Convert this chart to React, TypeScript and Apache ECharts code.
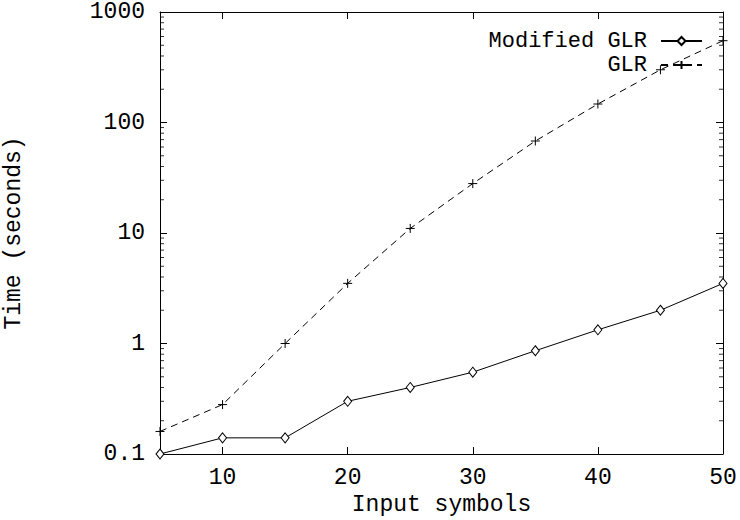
import React, { useEffect, useRef } from "react";
import * as echarts from "echarts";

const inputSymbols = [5, 10, 15, 20, 25, 30, 35, 40, 45, 50];
const modifiedGLR = [0.1, 0.14, 0.14, 0.3, 0.4, 0.55, 0.86, 1.33, 2.0, 3.5];
const glr = [0.16, 0.28, 1.0, 3.5, 11, 28, 68, 147, 300, 550];
const xTickValues = [10, 20, 30, 40, 50];
const yMajorValues = [0.1, 1, 10, 100, 1000];
const yMinorValues: number[] = [];
[0.1, 1, 10, 100].forEach((d) => {
  for (let k = 2; k <= 9; k++) yMinorValues.push(+(d * k).toPrecision(3));
});
const xMin = 5;
const xMax = 50;

const FONT = "Liberation Mono";
const FS = 23;

export default function App() {
  const ref = useRef<HTMLDivElement>(null);
  useEffect(() => {
    if (!ref.current) return;
    const chart = echarts.init(ref.current, null, { renderer: "svg" });
    const axisLine = { show: true, onZero: false, lineStyle: { color: "#000", width: 1 } };
    const xBase = (pos: string, showLabel: boolean) => ({
      type: "value",
      position: pos,
      min: xMin,
      max: xMax,
      axisLine,
      splitLine: { show: false },
      axisTick: {
        show: true,
        inside: true,
        length: 7,
        customValues: xTickValues,
        lineStyle: { color: "#000" },
      },
      axisLabel: {
        show: showLabel,
        customValues: xTickValues,
        fontFamily: FONT,
        fontSize: FS,
        lineHeight: 20,
        color: "#000",
        margin: 14,
      },
    });
    const logAxis = (pos: string, showLabel: boolean) => ({
      type: "log",
      logBase: 10,
      position: pos,
      min: 0.1,
      max: 1000,
      axisLine,
      splitLine: { show: false },
      axisTick: {
        show: true,
        inside: true,
        length: 7,
        customValues: yMajorValues,
        lineStyle: { color: "#000" },
      },
      axisLabel: {
        show: showLabel,
        customValues: yMajorValues,
        fontFamily: FONT,
        fontSize: FS,
        color: "#000",
        margin: 15,
        formatter: (v: number) => String(+(+v).toPrecision(3)),
      },
    });
    const xAxes: any[] = [
      {
        ...xBase("bottom", true),
        name: "Input symbols",
        nameLocation: "middle",
        nameGap: 41,
        nameMoveOverlap: false,
        nameTextStyle: { fontFamily: FONT, fontSize: FS, lineHeight: 20, color: "#000" },
      },
      { ...xBase("top", false) },
    ];
    const yAxes: any[] = [
      {
        ...logAxis("left", true),
        name: "Time (seconds)",
        nameLocation: "middle",
        nameGap: 135,
        nameMoveOverlap: false,
        nameTextStyle: { fontFamily: FONT, fontSize: FS, color: "#000" },
      },
      logAxis("right", false),
    ];
    const legendCommon = {
      orient: "vertical",
      align: "right",
      right: 37,
      padding: 0,
      itemWidth: 41,
      itemHeight: 10,
      textStyle: {
        fontFamily: FONT,
        fontSize: 22,
        color: "#000",
        lineHeight: 22,
        padding: [0, 9, 0, 0],
      },
      inactiveColor: "#000",
    };
    const tickSeries = (x: number, dx: number, vals: number[], len: number) => ({
      type: "scatter",
      silent: true,
      clip: false,
      data: vals.map((v) => [x, v]),
      symbol: "rect",
      symbolSize: [len, 1],
      symbolOffset: [dx, 0],
      itemStyle: { color: "#000" },
      z: 1,
    });
    chart.setOption({
      animation: false,
      backgroundColor: "#fff",
      grid: { left: 160, right: 17, top: 12, bottom: 66, outerBoundsMode: "none" },
      xAxis: xAxes,
      yAxis: yAxes,
      legend: [
        { ...legendCommon, top: 30, data: ["Modified GLR"] },
        { ...legendCommon, top: 54, data: ["GLR"] },
      ],
      series: [
        tickSeries(xMin, 2, yMinorValues, 4),
        tickSeries(xMax, -2, yMinorValues, 4),
        {
          name: "Modified GLR",
          type: "line",
          data: inputSymbols.map((x, i) => [x, modifiedGLR[i]]),
          symbol: "diamond",
          symbolSize: [8, 10],
          showAllSymbol: true,
          lineStyle: { color: "#000", width: 1, type: "solid" },
          itemStyle: { color: "#fff", borderColor: "#000", borderWidth: 1 },
        },
        {
          name: "GLR",
          type: "line",
          data: inputSymbols.map((x, i) => [x, glr[i]]),
          symbol: "path://M5,0 L5,10 M0,5 L10,5",
          symbolSize: 9,
          showAllSymbol: true,
          lineStyle: { color: "#000", width: 1, type: [7, 5] },
          itemStyle: { color: "none", borderColor: "#000", borderWidth: 1 },
        },
      ],
    });
    return () => chart.dispose();
  }, []);
  return <div ref={ref} style={{ width: 740, height: 520, position: "absolute", left: 0, top: 0 }} />;
}
